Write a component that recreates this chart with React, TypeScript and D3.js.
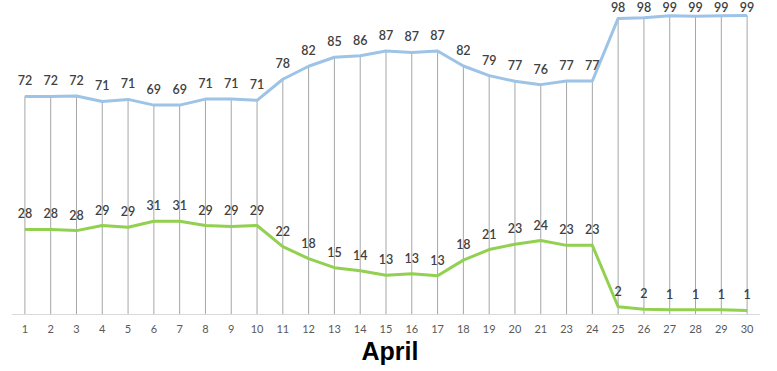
import React from "react";
import * as d3 from "d3";

const days = ["1","2","3","4","5","6","7","8","9","10","11","12","13","14","15","16","17","18","19","20","21","23","24","25","26","27","28","29","30"];
const blueValues = [72.3,72.3,72.4,70.6,71.3,69.4,69.4,71.4,71.4,71.0,78.0,82.3,85.3,85.8,87.4,86.9,87.4,82.4,79.2,77.3,76.2,77.4,77.4,98.2,98.4,99.1,98.9,99.1,99.2];
const greenValues = [28.1,28.1,27.7,29.4,28.8,30.8,30.8,29.4,29.1,29.4,22.4,18.4,15.4,14.4,12.9,13.4,12.7,17.9,21.4,23.2,24.4,22.8,22.8,2.4,1.6,1.4,1.4,1.4,1.2];
const blueLabels = [72,72,72,71,71,69,69,71,71,71,78,82,85,86,87,87,87,82,79,77,76,77,77,98,98,99,99,99,99];
const greenLabels = [28,28,28,29,29,31,31,29,29,29,22,18,15,14,13,13,13,18,21,23,24,23,23,2,2,1,1,1,1];
const axisTitle = "April";

const W = 777, H = 371;

export default function App() {
  const x = d3.scaleBand<string>().domain(days).range([12, 760]);
  const y = d3.scaleLinear().domain([0, 100]).range([314, 13]);
  const cx = (d: string) => (x(d) as number) + x.bandwidth() / 2;
  const line = d3.line<number>().x((_, i) => cx(days[i])).y((v) => y(v));
  const labelFont = "Lato, 'Open Sans', sans-serif";
  const labelY = (v: number) => Math.max(12, y(v) - 11);
  return (
    <svg width={W} height={H} style={{ position: "absolute", left: 0, top: 0, background: "#fff" }}>
      {days.map((d, i) => (
        <line key={"g" + d} x1={cx(d)} x2={cx(d)} y1={y(blueValues[i])} y2={y(0)} stroke="#a6a6a6" strokeWidth={1} />
      ))}
      <line x1={12} x2={760} y1={y(0) + 0.5} y2={y(0) + 0.5} stroke="#d9d9d9" strokeWidth={1} />
      <path d={line(blueValues) || ""} fill="none" stroke="#9dc3e6" strokeWidth={3} strokeLinejoin="round" />
      <path d={line(greenValues) || ""} fill="none" stroke="#92d050" strokeWidth={3} strokeLinejoin="round" />
      {days.map((d, i) => (
        <text key={"bl" + d} x={cx(d)} y={labelY(blueValues[i])} textAnchor="middle" fontFamily={labelFont} fontSize={12.5} fontWeight={600} fill="#404040">{blueLabels[i]}</text>
      ))}
      {days.map((d, i) => (
        <text key={"gl" + d} x={cx(d)} y={labelY(greenValues[i])} textAnchor="middle" fontFamily={labelFont} fontSize={12.5} fontWeight={600} fill="#404040">{greenLabels[i]}</text>
      ))}
      {days.map((d) => (
        <text key={"t" + d} x={cx(d)} y={333} textAnchor="middle" fontFamily={labelFont} fontSize={11} fill="#595959">{d}</text>
      ))}
      <text x={390} y={360} textAnchor="middle" fontFamily="'Liberation Sans', Arial, sans-serif" fontSize={25} fontWeight="bold" fill="#000">{axisTitle}</text>
    </svg>
  );
}
